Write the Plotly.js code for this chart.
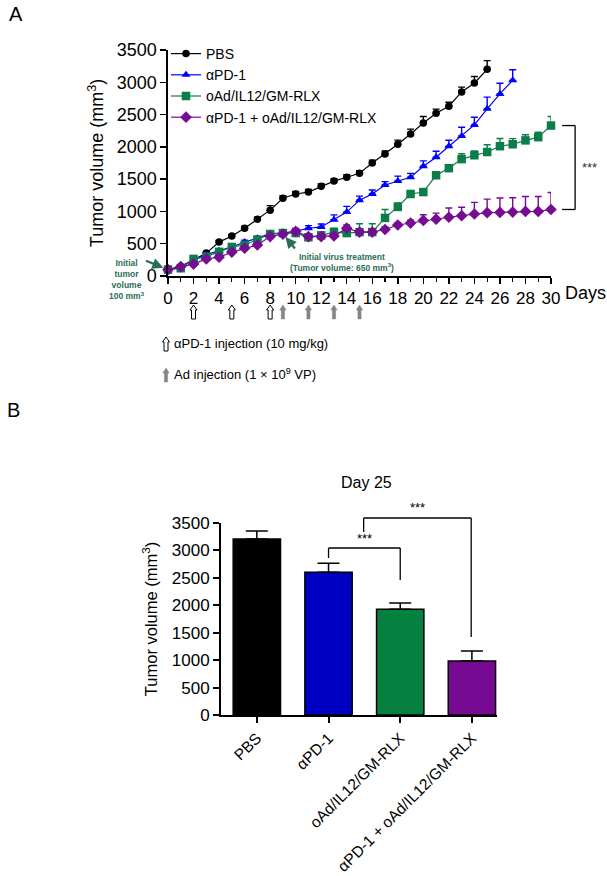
<!DOCTYPE html>
<html><head><meta charset="utf-8">
<script src="https://cdn.plot.ly/plotly-3.0.1.min.js"></script>
<style>html,body{margin:0;padding:0;background:#fff}#chart{width:607px;height:876px}</style>
</head><body><div id="chart"></div>
<script>
// ---------- Data: panel A (tumor growth curves) ----------
const pbsDays = [0,1,2,3,4,5,6,7,8,9,10,11,12,13,14,15,16,17,18,19,20,21,22,23,24,25];
const pbsValues = [100,150,250,355,525,620,740,880,1020,1205,1270,1300,1390,1470,1530,1590,1750,1890,2040,2200,2370,2520,2630,2850,2990,3200];
const pbsErr = [5,10,15,20,25,25,30,30,70,40,40,40,40,35,40,40,45,45,65,75,100,65,60,75,100,135];

const pd1Days = [0,1,2,3,4,5,6,7,8,9,10,11,12,13,14,15,16,17,18,19,20,21,22,23,24,25,26,27];
const pd1Values = [100,130,250,330,390,450,525,585,660,665,695,740,760,870,990,1175,1270,1410,1470,1530,1700,1840,2010,2170,2340,2590,2820,3030];
const pd1Err = [5,10,15,20,25,25,30,30,35,35,40,40,45,77,88,62,62,52,77,60,83,93,93,134,119,180,165,165];

const oadDays = [0,1,2,3,4,5,6,7,8,9,10,11,12,13,14,15,16,17,18,19,20,21,22,23,24,25,26,27,28,29,30];
const oadValues = [100,120,265,300,375,450,480,560,650,665,665,600,630,680,665,680,680,900,1070,1270,1300,1560,1670,1810,1870,1920,2010,2040,2100,2150,2330];
const oadErr = [5,10,15,20,25,25,30,30,35,35,35,30,40,60,80,130,130,129,62,30,30,40,50,83,67,113,119,88,88,77,139];

const comboDays = [0,1,2,3,4,5,6,7,8,9,10,11,12,13,14,15,16,17,18,19,20,21,22,23,24,25,26,27,28,29,30];
const comboValues = [100,145,185,265,290,370,430,480,610,650,690,610,610,620,740,680,680,720,790,820,860,880,910,935,960,980,985,990,1000,1000,1030];
const comboErr = [5,10,15,20,20,25,25,30,35,35,40,30,30,35,52,40,40,40,35,45,88,93,144,130,180,210,222,222,232,232,263];

const seriesNames = ['PBS', '\u03b1PD-1', 'oAd/IL12/GM-RLX', '\u03b1PD-1 + oAd/IL12/GM-RLX'];
const xTickVals = [0,2,4,6,8,10,12,14,16,18,20,22,24,26,28,30];
const yTickVals = [0,500,1000,1500,2000,2500,3000,3500];

const pd1InjectionDays = [2,5,8];
const adInjectionDays = [9,11,13,15];

// ---------- Data: panel B (Day 25 bars) ----------
const barGroups = ['PBS', '\u03b1PD-1', 'oAd/IL12/GM-RLX', '\u03b1PD-1 + oAd/IL12/GM-RLX'];
const day25Values = [3210,2600,1930,985];
const day25Err = [146,164,110,183];

// ---------- Styles ----------
const FONT = 'Arial, "Liberation Sans", sans-serif';
const lineColors = ['#000000', '#0000ff', '#0a7d48', '#760c92'];
const barColors = ['#000000', '#0000c4', '#04803f', '#770a92'];
const symbols = ['circle', 'triangle-up', 'square', 'diamond'];
const sizes = [7.5, 8, 8.5, 9];
const annGreen = '#2a6e56';

const W = 607, H = 876;
const px = x => x / W;
const py = y => 1 - y / H;

function lineTrace(i, xs, ys, errs) {
  return {
    type: 'scatter', mode: 'lines+markers', name: seriesNames[i],
    x: xs, y: ys, xaxis: 'x', yaxis: 'y', cliponaxis: false,
    line: {color: lineColors[i], width: 1.2},
    marker: {color: lineColors[i], symbol: symbols[i], size: sizes[i]},
    error_y: {type: 'data', symmetric: false, array: errs, arrayminus: errs.map(() => 0),
              color: lineColors[i], thickness: 1.4, width: 3.5},
    hoverinfo: 'skip'
  };
}

const traces = [
  lineTrace(0, pbsDays, pbsValues, pbsErr),
  lineTrace(1, pd1Days, pd1Values, pd1Err),
  lineTrace(2, oadDays, oadValues, oadErr),
  lineTrace(3, comboDays, comboValues, comboErr),
  {
    type: 'bar', x: [0,1,2,3], y: day25Values, xaxis: 'x2', yaxis: 'y2', showlegend: false,
    width: 0.66,
    marker: {color: barColors, line: {color: '#000', width: 1.5}},
    error_y: {type: 'data', symmetric: false, array: day25Err, arrayminus: day25Err.map(() => 0),
              color: '#000', thickness: 1.5, width: 11},
    hoverinfo: 'skip'
  }
];

// Injection arrows (panel A) – pixel-sized shapes anchored at the injection day
const openArrow = 'M -2,0 L 2,0 L 2,9 L 3.5,9 L 0,14 L -3.5,9 L -2,9 Z';
const solidArrow = 'M -1.6,0 L 1.6,0 L 1.6,9 L 3.2,9 L 0,14 L -3.2,9 L -1.6,9 Z';
const shapes = [];
pd1InjectionDays.forEach(d => shapes.push({
  type: 'path', xref: 'x', yref: 'paper', xsizemode: 'pixel', ysizemode: 'pixel',
  xanchor: d, yanchor: py(319), path: openArrow,
  fillcolor: '#ffffff', line: {color: '#000', width: 1}
}));
adInjectionDays.forEach(d => shapes.push({
  type: 'path', xref: 'x', yref: 'paper', xsizemode: 'pixel', ysizemode: 'pixel',
  xanchor: d, yanchor: py(319), path: solidArrow,
  fillcolor: '#858585', line: {color: '#858585', width: 0.5}
}));
// Key arrows
shapes.push({type: 'path', xref: 'paper', yref: 'paper', xsizemode: 'pixel', ysizemode: 'pixel',
  xanchor: px(166), yanchor: py(351), path: openArrow, fillcolor: '#fff', line: {color: '#000', width: 1}});
shapes.push({type: 'path', xref: 'paper', yref: 'paper', xsizemode: 'pixel', ysizemode: 'pixel',
  xanchor: px(166), yanchor: py(382), path: solidArrow, fillcolor: '#858585', line: {color: '#858585', width: 0.5}});

// Significance bracket (panel A), tied to last values of green and purple
const lastOad = oadValues[oadValues.length - 1];
const lastCombo = comboValues[comboValues.length - 1];
const bx0 = 1.029, bx1 = 1.063;
const bl = {color: '#000', width: 1.3};
shapes.push({type: 'line', xref: 'x domain', yref: 'y', x0: bx0, x1: bx1, y0: lastOad, y1: lastOad, line: bl});
shapes.push({type: 'line', xref: 'x domain', yref: 'y', x0: bx1, x1: bx1, y0: lastOad, y1: lastCombo, line: bl});
shapes.push({type: 'line', xref: 'x domain', yref: 'y', x0: bx0, x1: bx1, y0: lastCombo, y1: lastCombo, line: bl});

// Significance brackets (panel B)
const yd = v => v / 3500;
const bl2 = {color: '#000', width: 1.3};
function seg(x0, y0, x1, y1) {
  shapes.push({type: 'line', xref: 'x2', yref: 'y2 domain', x0: x0, x1: x1, y0: yd(y0), y1: yd(y1), line: bl2});
}
seg(1, 2862, 1, 3044); seg(1, 3044, 2, 3044); seg(2, 3044, 2, 2461);
seg(1.49, 3336, 1.49, 3591); seg(1.49, 3591, 2.99, 3591); seg(2.99, 3591, 2.99, 1422);

const annotations = [
  {text: 'A', xref: 'paper', yref: 'paper', x: px(7), y: py(14), xanchor: 'left', yanchor: 'middle', showarrow: false, font: {size: 20, family: FONT, color: '#000'}},
  {text: 'B', xref: 'paper', yref: 'paper', x: px(5), y: py(410), xanchor: 'left', yanchor: 'middle', showarrow: false, font: {size: 20, family: FONT, color: '#000'}},
  {text: 'Days', xref: 'paper', yref: 'paper', x: px(563), y: py(293), xanchor: 'left', yanchor: 'middle', showarrow: false, font: {size: 18, family: FONT, color: '#000'}},
  {text: '***', xref: 'x domain', yref: 'y', x: 1.10, y: (lastOad + lastCombo) / 2, xanchor: 'center', yanchor: 'middle', showarrow: false, font: {size: 13, family: FONT, color: '#333'}},
  {text: '<b>Initial<br>tumor<br>volume<br>100 mm<sup>3</sup></b>', xref: 'paper', yref: 'paper', x: px(127), y: py(279), xanchor: 'center', yanchor: 'middle', showarrow: false, align: 'center', font: {size: 8.5, family: FONT, color: annGreen}},
  {text: ' ', xref: 'x', yref: 'y', x: 0, y: oadValues[0], ax: -25, ay: -10, showarrow: true, arrowhead: 2, arrowsize: 1, arrowwidth: 2.2, arrowcolor: annGreen, standoff: 5},
  {text: '<b>Initial virus treatment<br>(Tumor volume: 650 mm<sup>3</sup>)</b>', xref: 'paper', yref: 'paper', x: px(342), y: py(262), xanchor: 'center', yanchor: 'middle', showarrow: false, align: 'center', font: {size: 8.5, family: FONT, color: annGreen}},
  {text: ' ', xref: 'x', yref: 'y', x: adInjectionDays[0], y: comboValues[9], ax: 15, ay: 18, showarrow: true, arrowhead: 2, arrowsize: 1, arrowwidth: 2.2, arrowcolor: annGreen, standoff: 4},
  {text: '\u03b1PD-1 injection (10 mg/kg)', xref: 'paper', yref: 'paper', x: px(172), y: py(343), xanchor: 'left', yanchor: 'middle', showarrow: false, font: {size: 13, family: FONT, color: '#000'}},
  {text: 'Ad injection (1 \u00d7 10<sup>9</sup> VP)', xref: 'paper', yref: 'paper', x: px(172), y: py(374), xanchor: 'left', yanchor: 'middle', showarrow: false, font: {size: 13, family: FONT, color: '#000'}},
  {text: 'Day 25', xref: 'paper', yref: 'paper', x: px(366), y: py(482), xanchor: 'center', yanchor: 'middle', showarrow: false, font: {size: 16, family: FONT, color: '#000'}},
  {text: '***', xref: 'x2', yref: 'y2 domain', x: 1.5, y: yd(3226), xanchor: 'center', yanchor: 'middle', showarrow: false, font: {size: 13, family: FONT, color: '#000'}},
  {text: '***', xref: 'x2', yref: 'y2 domain', x: 2.24, y: yd(3791), xanchor: 'center', yanchor: 'middle', showarrow: false, font: {size: 13, family: FONT, color: '#000'}}
];

const axisCommon = {
  showgrid: false, zeroline: false, showline: true, linecolor: '#000', ticks: 'outside',
  tickcolor: '#000', fixedrange: true
};

const layout = {
  width: W, height: H,
  margin: {l: 0, r: 0, t: 0, b: 0, pad: 0},
  paper_bgcolor: '#fff', plot_bgcolor: 'rgba(0,0,0,0)',
  font: {family: FONT, color: '#000'},
  showlegend: true,
  legend: {x: px(166), y: py(38), xanchor: 'left', yanchor: 'top', bgcolor: 'rgba(0,0,0,0)',
           font: {size: 14, family: FONT, color: '#000'}, tracegroupgap: 0, itemwidth: 30},
  xaxis: Object.assign({}, axisCommon, {
    domain: [px(168), px(551)], anchor: 'y', range: [0, 30], tickvals: xTickVals,
    linewidth: 1.6, tickwidth: 1.5, ticklen: 6, tickfont: {size: 17, family: FONT, color: '#000'},
    minor: {tickvals: oadDays, ticks: 'outside', ticklen: 4, tickwidth: 1.2, tickcolor: '#000', showgrid: false}
  }),
  yaxis: Object.assign({}, axisCommon, {
    domain: [py(276), py(50)], anchor: 'x', range: [0, 3500], tickvals: yTickVals,
    linewidth: 1.6, tickwidth: 1.5, ticklen: 6, tickfont: {size: 18, family: FONT, color: '#000'},
    title: {text: 'Tumor volume (mm<sup>3</sup>)', font: {size: 18, family: FONT, color: '#000'}, standoff: 8}
  }),
  xaxis2: Object.assign({}, axisCommon, {
    domain: [px(221), px(497)], anchor: 'y2', range: [-0.5, 3.35],
    tickvals: [0,1,2,3], ticktext: barGroups, tickangle: -45,
    linewidth: 2, tickwidth: 2, ticklen: 6, tickfont: {size: 15.5, family: FONT, color: '#000'}
  }),
  yaxis2: Object.assign({}, axisCommon, {
    domain: [py(715), py(523)], anchor: 'x2', range: [0, 3500], tickvals: yTickVals,
    linewidth: 2, tickwidth: 2, ticklen: 6, tickfont: {size: 17, family: FONT, color: '#000'},
    title: {text: 'Tumor volume (mm<sup>3</sup>)', font: {size: 16.5, family: FONT, color: '#000'}, standoff: 10}
  }),
  shapes: shapes,
  annotations: annotations
};

Plotly.newPlot('chart', traces, layout, {staticPlot: true, displayModeBar: false});
</script>
</body></html>
